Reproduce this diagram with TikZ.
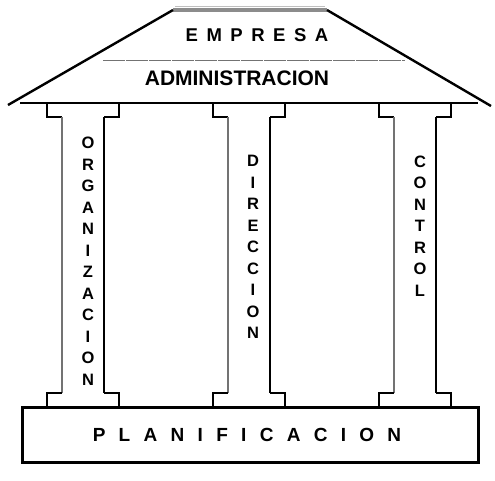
\documentclass[tikz,border=0pt]{standalone}
\usepackage{fontspec}
\setmainfont{Liberation Sans}
\newfontfamily\roofletters[LetterSpace=46]{Liberation Sans}
\newfontfamily\baseletters[LetterSpace=70]{Liberation Sans}
\usepackage{tikz}
\usetikzlibrary{positioning}

\begin{document}
\begin{tikzpicture}[x=1pt,y=-1pt]

            % Define styles
            \tikzstyle{edge} = [draw=black, line width=2.4pt, line join=miter]
            \tikzstyle{shade} = [draw=black!55, line width=1.6pt]
            \tikzstyle{pillar} = [inner sep=0pt, align=center, font=\bfseries\fontsize{16.5}{21.5}\selectfont]

            \useasboundingbox (0,0) rectangle (495,480);

            % Roof
            \draw[draw=black!45, line width=4pt] (173,10) -- (327,10);
            \draw[draw=black!25, line width=1pt] (175,6.5) -- (325,6.5);
            \draw[edge] (173,10) -- (8,105);
            \draw[edge] (327,10) -- (491,106);
            \draw[edge] (20,103) -- (478,103);
            \draw[draw=black!55, line width=0.8pt, dash pattern=on 22pt off 1pt] (103,60) -- (405,60);

            % Columns
            \foreach \cx in {83,249,415} {
                \draw[edge, line width=2pt] (\cx-36,103) -- (\cx-36,117) -- (\cx-21,117);
                \draw[edge, line width=2pt] (\cx+36,103) -- (\cx+36,117) -- (\cx+21,117);
                \draw[shade] (\cx-21,117) -- (\cx-21,393);
                \draw[edge] (\cx+21,117) -- (\cx+21,393);
                \draw[edge, line width=2pt] (\cx-21,393) -- (\cx-36,393) -- (\cx-36,407);
                \draw[edge, line width=2pt] (\cx+21,393) -- (\cx+36,393) -- (\cx+36,407);
            }

            % Base
            \draw[edge, line width=3pt] (22,407) rectangle (478,462);

            % Texts
            \node[inner sep=0pt, font=\roofletters\bfseries\fontsize{18.5}{18.5}\selectfont] (empresa) at (257,35) {EMPRESA};
            \node[inner sep=0pt, font=\bfseries\fontsize{21}{21}\selectfont] (admin) at (237,78) {ADMINISTRACION};
            \node[inner sep=0pt, font=\baseletters\bfseries\fontsize{19}{19}\selectfont] (plan) at (247,435) {PLANIFICACION};
            \node[pillar] (org) at (88,261) {O\\R\\G\\A\\N\\I\\Z\\A\\C\\I\\O\\N};
            \node[pillar] (dir) at (253,247) {D\\I\\R\\E\\C\\C\\I\\O\\N};
            \node[pillar] (ctrl) at (420,226) {C\\O\\N\\T\\R\\O\\L};

        \end{tikzpicture}
\end{document}
